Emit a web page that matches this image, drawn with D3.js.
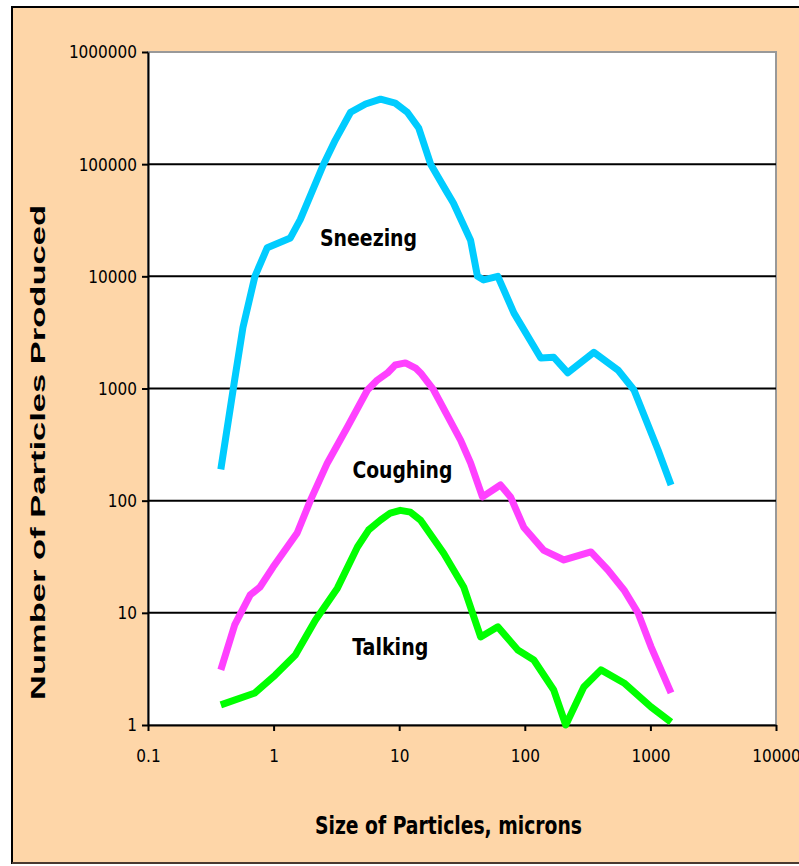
<!DOCTYPE html>
<html>
<head>
<meta charset="utf-8">
<script src="https://cdn.jsdelivr.net/npm/d3@7"></script>
<style>
  body { margin: 0; background: #fff; }
  svg text { font-family: "Liberation Sans Narrow", "Arial Narrow", "DejaVu Sans Condensed", sans-serif; }
</style>
</head>
<body>
<svg id="canvas" width="799" height="866"></svg>
<script>
// size of particles (microns) vs. number produced
var sneezing = [
  [0.38, 190], [0.49, 1200], [0.57, 3500], [0.71, 10000], [0.89, 18000],
  [1.36, 22000], [1.63, 32000], [2.5, 100000], [3.1, 164000], [4.1, 290000],
  [5.4, 344000], [7.1, 380000], [9.3, 350000], [11.6, 290000], [14.3, 210000],
  [17.8, 100000], [23.4, 59000], [27, 45000], [37, 21000], [42, 10000],
  [47, 9300], [61, 10000], [82, 4700], [134, 1870], [170, 1900], [220, 1380],
  [355, 2100], [552, 1460], [740, 970], [1150, 283], [1460, 138]
];
var coughing = [
  [0.38, 3.1], [0.49, 7.8], [0.65, 14.4], [0.78, 17], [0.99, 25.6], [1.54, 51.5],
  [1.96, 100], [2.68, 217], [3.87, 454], [5.59, 970], [6.7, 1190], [8.07, 1375],
  [9.3, 1620], [11.2, 1690], [13.5, 1520], [14.8, 1375], [18.8, 970], [30.8, 347],
  [37, 217], [46, 108], [64, 138], [77, 108], [98, 58], [142, 36], [205, 29.6],
  [336, 34.9], [459, 24.1], [616, 16], [796, 10], [1010, 5.0], [1460, 1.93]
];
var talking = [
  [0.38, 1.51], [0.71, 1.93], [1.03, 2.79], [1.49, 4.2], [2.15, 8.6], [3.22, 16.6],
  [4.65, 38.6], [5.7, 54.7], [7.09, 67], [8.5, 77.6], [10.2, 82], [12.3, 79],
  [14.8, 67], [22.6, 34], [32.6, 17], [44.5, 6.1], [61, 7.5], [88, 4.66],
  [118, 3.8], [170, 2.05], [212, 1], [295, 2.18], [404, 3.1], [616, 2.37],
  [1010, 1.45], [1460, 1.06]
];
var series_names = ["Sneezing", "Coughing", "Talking"];
var series_colors = ["#00CCFF", "#FF40FF", "#00FF00"];
var label_pos = [[5.7, 22000], [10.6, 188], [8.5, 5]];
var x_ticks = [0.1, 1, 10, 100, 1000, 10000];
var y_ticks = [1, 10, 100, 1000, 10000, 100000, 1000000];

var svg = d3.select('#canvas');
var W = 799, H = 866;
var plot_l = 148, plot_r = 776, plot_t = 52, plot_b = 725;

// background + frame
svg.append('rect').attr('x', 0).attr('y', 0).attr('width', W).attr('height', H).attr('fill', '#fff');
svg.append('rect').attr('x', 13).attr('y', 7).attr('width', W - 13).attr('height', 856)
  .attr('fill', '#FED6A8');
svg.append('line').attr('x1', 12).attr('x2', W).attr('y1', 7).attr('y2', 7).attr('stroke', '#000').attr('stroke-width', 2);
svg.append('line').attr('x1', 12).attr('x2', 12).attr('y1', 6).attr('y2', 864).attr('stroke', '#000').attr('stroke-width', 2);
svg.append('line').attr('x1', 12).attr('x2', W).attr('y1', 863).attr('y2', 863).attr('stroke', '#4a3a30').attr('stroke-width', 2);

var xScale = d3.scaleLog().domain([0.1, 10000]).range([plot_l, plot_r]);
var yScale = d3.scaleLog().domain([1, 1000000]).range([plot_b, plot_t]);

// plot area
svg.append('rect').attr('x', plot_l).attr('y', plot_t).attr('width', plot_r - plot_l).attr('height', plot_b - plot_t)
  .attr('fill', '#fff').attr('stroke', '#999').attr('stroke-width', 2);

// gridlines
svg.append('g').selectAll('line').data(y_ticks.slice(1, -1)).join('line')
  .attr('x1', plot_l).attr('x2', plot_r)
  .attr('y1', d => yScale(d)).attr('y2', d => yScale(d))
  .attr('stroke', '#000').attr('stroke-width', 2);

// axes
var xAxis = svg.append('g').attr('transform', 'translate(0,' + plot_b + ')')
  .call(d3.axisBottom(xScale).tickValues(x_ticks).tickFormat(d3.format('')).tickSize(6).tickSizeOuter(0));
var yAxis = svg.append('g').attr('transform', 'translate(' + plot_l + ',0)')
  .call(d3.axisLeft(yScale).tickValues(y_ticks).tickFormat(d3.format('')).tickSize(6).tickSizeOuter(0));
[xAxis, yAxis].forEach(function(a){
  a.select('.domain').attr('stroke', '#000').attr('stroke-width', 2);
  a.selectAll('.tick line').attr('stroke', '#000').attr('stroke-width', 2);
  a.selectAll('.tick text').attr('fill', '#000').style('font-size', '17px');
});
xAxis.selectAll('.tick text').attr('y', 25).attr('dy', '0.71em');
yAxis.selectAll('.tick text').attr('x', -11).attr('dy', '0.35em');

// series
var lineGen = d3.line().x(d => xScale(d[0])).y(d => yScale(d[1]));
[sneezing, coughing, talking].forEach(function(s, i){
  svg.append('path').attr('d', lineGen(s)).attr('fill', 'none')
    .attr('stroke', series_colors[i]).attr('stroke-width', 7)
    .attr('stroke-linejoin', 'round').attr('stroke-linecap', 'butt');
});

// labels
var label_w = [97, 100, 76];
svg.append('g').selectAll('text').data(series_names).join('text')
  .attr('x', (d, i) => xScale(label_pos[i][0]) - label_w[i] / 2)
  .attr('y', (d, i) => yScale(label_pos[i][1]))
  .attr('dy', '0.35em')
  .attr('textLength', (d, i) => label_w[i]).attr('lengthAdjust', 'spacingAndGlyphs')
  .style('font-size', '23px').style('font-weight', 'bold')
  .text(d => d);

// axis titles
svg.append('text').attr('x', 315).attr('y', 834)
  .attr('textLength', 267).attr('lengthAdjust', 'spacingAndGlyphs')
  .style('font-size', '25px').style('font-weight', 'bold').text('Size of Particles, microns');
svg.append('text').attr('transform', 'translate(45,700) rotate(-90)')
  .attr('textLength', 495).attr('lengthAdjust', 'spacingAndGlyphs')
  .style('font-family', '"Liberation Sans", Arial, sans-serif')
  .style('font-size', '20px').style('font-weight', 'bold').text('Number of Particles Produced');
</script>
</body>
</html>
